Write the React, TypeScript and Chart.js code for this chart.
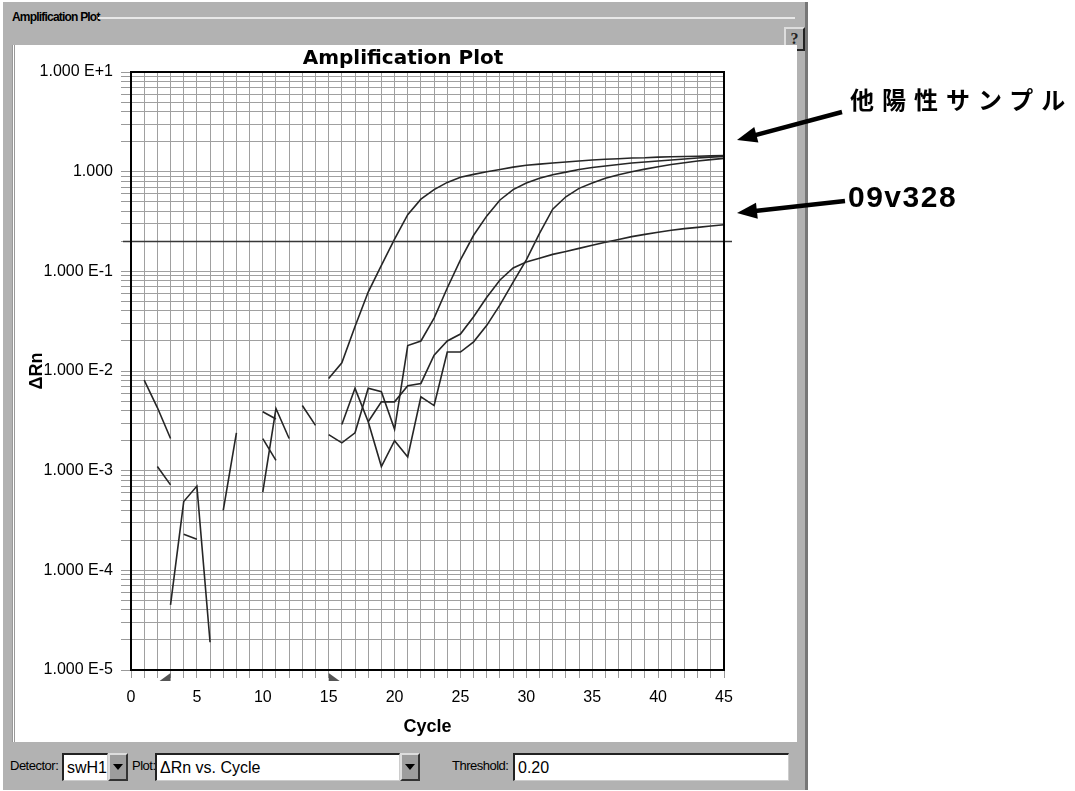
import React, { useEffect, useRef } from 'react';
import { Chart, registerables } from 'chart.js';

Chart.register(...registerables);

// ---------- data ----------
const cycles = [1, 2, 3, 4, 5, 6, 7, 8, 9, 10, 11, 12, 13, 14, 15, 16, 17, 18, 19, 20, 21, 22, 23, 24, 25, 26, 27, 28, 29, 30, 31, 32, 33, 34, 35, 36, 37, 38, 39, 40, 41, 42, 43, 44, 45];

// other positive sample 1 (earliest rise)
const positiveA = [0.0081, 0.0043, 0.0021, null, null, null, 0.0004, 0.0024, null, null, null, null, null, null, 0.0084, 0.0121, 0.028, 0.062, 0.115, 0.21, 0.37, 0.53, 0.66, 0.78, 0.88, 0.94, 1.0, 1.05, 1.11, 1.16, 1.19, 1.22, 1.25, 1.28, 1.31, 1.33, 1.35, 1.37, 1.38, 1.4, 1.41, 1.42, 1.43, 1.44, 1.45];
// other positive sample 2
const positiveB = [null, 0.0011, 0.00072, null, null, null, null, null, null, 0.00061, 0.0042, 0.0021, null, null, 0.0023, 0.0019, 0.0024, 0.0067, 0.0062, 0.0026, 0.018, 0.02, 0.034, 0.068, 0.13, 0.23, 0.36, 0.52, 0.66, 0.77, 0.86, 0.93, 0.99, 1.05, 1.1, 1.14, 1.18, 1.22, 1.25, 1.28, 1.31, 1.34, 1.37, 1.4, 1.42];
// other positive sample 3
const positiveC = [null, null, 0.000045, 0.00049, 0.0007, 0.000019, null, null, null, 0.0021, 0.00127, null, 0.0045, 0.00285, null, 0.0029, 0.0067, 0.0031, 0.0011, 0.002, 0.00137, 0.0055, 0.0045, 0.0155, 0.0155, 0.0196, 0.0287, 0.046, 0.078, 0.13, 0.24, 0.42, 0.56, 0.68, 0.77, 0.86, 0.93, 1.0, 1.06, 1.12, 1.18, 1.23, 1.28, 1.32, 1.36];
// sample 09v328
const sample09v328 = [null, null, null, 0.00023, 0.000205, null, null, null, null, 0.0039, 0.0033, null, null, null, null, null, null, 0.0031, 0.0049, 0.0049, 0.0071, 0.0075, 0.0144, 0.02, 0.0235, 0.035, 0.055, 0.082, 0.108, 0.124, 0.135, 0.148, 0.158, 0.17, 0.183, 0.196, 0.209, 0.223, 0.235, 0.247, 0.258, 0.268, 0.276, 0.285, 0.293];

const seriesNames = ['他陽性サンプル 1', '他陽性サンプル 2', '他陽性サンプル 3', '09v328'];
const seriesValues = [positiveA, positiveB, positiveC, sample09v328];

const thresholdValue = 0.2;
const baselineStart = 3;
const baselineEnd = 15;

const xMin = 0;
const xMax = 45;
const xTickLabels = [0, 5, 10, 15, 20, 25, 30, 35, 40, 45];

const yMin = 1e-5;
const yMax = 10;
const yTickValues = [1e-5, 1e-4, 1e-3, 1e-2, 1e-1, 1, 10];
const yTickLabels = ['1.000 E-5', '1.000 E-4', '1.000 E-3', '1.000 E-2', '1.000 E-1', '1.000', '1.000 E+1'];
const yMinorSteps = [1, 2, 3, 4, 5, 6, 7, 8, 9];

// ---------- styles ----------
const FONT = '"Liberation Sans", Arial, sans-serif';
const TITLE_FONT = '"DejaVu Sans", "Liberation Sans", sans-serif';
const GRID = '#a0a0a0';
const LINE = '#262626';
const TITLE_SPAN = 770; // title is centred on the whole panel, not on the plot area

const framePlugin = {
  id: 'plotFrame',
  afterLayout(chart: any) {
    if (chart.titleBlock) {
      chart.titleBlock.left = 0;
      chart.titleBlock.right = TITLE_SPAN;
    }
  },
  afterDatasetsDraw(chart: any) {
    const { ctx, chartArea, scales } = chart;
    const x = scales.x;
    const y = scales.y;
    ctx.save();
    // threshold line
    const ty = Math.round(y.getPixelForValue(thresholdValue)) + 0.5;
    ctx.strokeStyle = '#383838';
    ctx.lineWidth = 1.6;
    ctx.beginPath();
    ctx.moveTo(chartArea.left - 8, ty);
    ctx.lineTo(chartArea.right + 8, ty);
    ctx.stroke();
    // frame
    ctx.strokeStyle = '#000';
    ctx.lineWidth = 2;
    ctx.strokeRect(chartArea.left, chartArea.top, chartArea.right - chartArea.left, chartArea.bottom - chartArea.top);
    // baseline markers
    ctx.fillStyle = '#555';
    const by = chartArea.bottom + 3;
    const xs = x.getPixelForValue(baselineStart);
    ctx.beginPath();
    ctx.moveTo(xs, by);
    ctx.lineTo(xs, by + 8);
    ctx.lineTo(xs - 11, by + 8);
    ctx.closePath();
    ctx.fill();
    const xe = x.getPixelForValue(baselineEnd);
    ctx.beginPath();
    ctx.moveTo(xe, by);
    ctx.lineTo(xe, by + 8);
    ctx.lineTo(xe + 11, by + 8);
    ctx.closePath();
    ctx.fill();
    ctx.restore();
  },
};

function decadeIndex(v: number) {
  return yTickValues.findIndex((t) => Math.abs(Math.log10(t) - Math.log10(v)) < 1e-6);
}

function AmpChart() {
  const ref = useRef<HTMLCanvasElement | null>(null);
  useEffect(() => {
    if (!ref.current) return;
    const gridValues: number[] = [];
    for (let i = 0; i < yTickValues.length - 1; i++) {
      for (const m of yMinorSteps) gridValues.push(m * yTickValues[i]);
    }
    gridValues.push(yTickValues[yTickValues.length - 1]);
    const xGrid: number[] = [];
    for (let c = xMin; c <= xMax; c++) xGrid.push(c);

    const chart = new Chart(ref.current, {
      type: 'line',
      data: {
        datasets: seriesValues.map((vals, si) => ({
          label: seriesNames[si],
          data: cycles.map((c, i) => ({ x: c, y: vals[i] })),
          borderColor: LINE,
          borderWidth: 1.6,
          pointRadius: 0,
          tension: 0,
          fill: false,
          spanGaps: false,
        })),
      },
      options: {
        animation: false,
        responsive: false,
        devicePixelRatio: 1,
        layout: { padding: { left: 0, top: 0, right: 64, bottom: 0 } },
        plugins: {
          legend: { display: false },
          tooltip: { enabled: false },
          title: {
            display: true,
            text: 'Amplification Plot',
            color: '#000',
            font: { family: TITLE_FONT, size: 20, weight: 'bold', lineHeight: 1.2 },
            padding: { top: 2, bottom: 1 },
          },
        },
        scales: {
          x: {
            type: 'linear',
            min: xMin,
            max: xMax,
            afterBuildTicks: (axis: any) => {
              axis.ticks = xGrid.map((v) => ({ value: v }));
            },
            afterFit: (axis: any) => {
              axis.height = 72;
            },
            ticks: {
              autoSkip: false,
              maxRotation: 0,
              padding: 10,
              color: '#000',
              font: { family: FONT, size: 16 },
              callback: (v: any) => (xTickLabels.includes(Number(v)) ? String(v) : ''),
            },
            grid: { color: GRID, lineWidth: 1, tickLength: 8, tickColor: '#999' },
            border: { display: true, color: '#000', width: 2 },
            title: {
              display: true,
              text: 'Cycle',
              color: '#000',
              font: { family: FONT, size: 18, weight: 'bold' },
              padding: { top: 0, bottom: 4 },
            },
          },
          y: {
            type: 'logarithmic',
            min: yMin,
            max: yMax,
            afterBuildTicks: (axis: any) => {
              axis.ticks = gridValues.map((v) => ({ value: v }));
            },
            afterFit: (axis: any) => {
              axis.width = 113;
            },
            ticks: {
              autoSkip: false,
              padding: 8,
              color: '#000',
              font: { family: FONT, size: 16 },
              callback: (v: any) => {
                const idx = decadeIndex(Number(v));
                return idx >= 0 ? yTickLabels[idx] : '';
              },
            },
            grid: { color: GRID, lineWidth: 1, tickLength: 10, tickColor: '#999' },
            border: { display: true, color: '#000', width: 2 },
            title: {
              display: true,
              text: 'ΔRn',
              color: '#000',
              font: { family: FONT, size: 18, weight: 'bold' },
              padding: { top: 8, bottom: 0 },
            },
          },
        },
      },
      plugins: [framePlugin],
    } as any);
    return () => chart.destroy();
  }, []);
  return <canvas ref={ref} width={770} height={697} style={{ display: 'block', width: 770, height: 697 }} />;
}

function DropButton({ left }: { left: number }) {
  return (
    <div
      style={{
        position: 'absolute',
        left,
        top: 0,
        width: 20,
        height: 28,
        background: '#9d9d9d',
        borderTop: '2px solid #ddd',
        borderLeft: '2px solid #ddd',
        borderRight: '2px solid #333',
        borderBottom: '2px solid #333',
        boxSizing: 'border-box',
      }}
    >
      <div
        style={{
          position: 'absolute',
          left: 3,
          top: 9,
          width: 0,
          height: 0,
          borderLeft: '5px solid transparent',
          borderRight: '5px solid transparent',
          borderTop: '6px solid #000',
        }}
      />
    </div>
  );
}

function TextBox({ left, width, text }: { left: number; width: number; text: string }) {
  return (
    <div
      style={{
        position: 'absolute',
        left,
        top: 0,
        width,
        height: 28,
        background: '#fff',
        borderTop: '2px solid #222',
        borderLeft: '2px solid #222',
        borderRight: '1px solid #ccc',
        borderBottom: '1px solid #ccc',
        boxSizing: 'border-box',
        font: `16px ${FONT}`,
        lineHeight: '25px',
        paddingLeft: 3,
        color: '#000',
      }}
    >
      {text}
    </div>
  );
}

function Arrow({ x1, y1, x2, y2 }: { x1: number; y1: number; x2: number; y2: number }) {
  const dx = x2 - x1;
  const dy = y2 - y1;
  const len = Math.hypot(dx, dy);
  const ux = dx / len;
  const uy = dy / len;
  const head = 20;
  const half = 8;
  const bx = x2 - ux * head;
  const by = y2 - uy * head;
  const pts = `${x2},${y2} ${bx - uy * half},${by + ux * half} ${bx + uy * half},${by - ux * half}`;
  return (
    <g>
      <line x1={x1} y1={y1} x2={bx + ux * 2} y2={by + uy * 2} stroke="#000" strokeWidth={4.5} />
      <polygon points={pts} fill="#000" />
    </g>
  );
}

const labelStyle: React.CSSProperties = {
  position: 'absolute',
  top: 5,
  font: `13px ${FONT}`,
  color: '#000',
  letterSpacing: -0.5,
  whiteSpace: 'nowrap',
};

export default function App() {
  return (
    <div
      style={{
        position: 'fixed',
        left: 0,
        top: 0,
        width: 1075,
        height: 791,
        background: '#fff',
        overflow: 'hidden',
        fontFamily: FONT,
      }}
    >
      {/* window panel */}
      <div style={{ position: 'absolute', left: 3, top: 2, width: 805, height: 788, background: '#b2b2b2' }} />
      <div style={{ position: 'absolute', left: 805, top: 2, width: 3, height: 788, background: '#777' }} />
      {/* group box label */}
      <div style={{ position: 'absolute', left: 12, top: 10, font: `bold 12px ${FONT}`, color: '#000', letterSpacing: -0.8, whiteSpace: 'nowrap' }}>
        Amplification Plot
      </div>
      <div style={{ position: 'absolute', left: 98, top: 17, width: 697, height: 2, background: '#e8e8e8' }} />
      {/* help button */}
      <div
        style={{
          position: 'absolute',
          left: 784,
          top: 27,
          width: 21,
          height: 24,
          background: '#a8a8a8',
          borderTop: '2px solid #ddd',
          borderLeft: '2px solid #ddd',
          borderRight: '2px solid #222',
          borderBottom: '2px solid #222',
          boxSizing: 'border-box',
          font: `bold 16px "Liberation Serif", serif`,
          textAlign: 'center',
          lineHeight: '20px',
          color: '#222',
        }}
      >
        ?
      </div>
      {/* white plot panel */}
      <div style={{ position: 'absolute', left: 12, top: 45, width: 785, height: 697, background: '#fff', borderLeft: '3px double #999', boxSizing: 'border-box' }} />
      <div style={{ position: 'absolute', left: 18, top: 45 }}>
        <AmpChart />
      </div>
      {/* bottom controls */}
      <div style={{ position: 'absolute', left: 0, top: 753, width: 805, height: 30 }}>
        <div style={{ ...labelStyle, left: 10 }}>Detector:</div>
        <TextBox left={62} width={46} text="swH1" />
        <DropButton left={108} />
        <div style={{ ...labelStyle, left: 132 }}>Plot:</div>
        <TextBox left={155} width={245} text="ΔRn vs. Cycle" />
        <DropButton left={400} />
        <div style={{ ...labelStyle, left: 452 }}>Threshold:</div>
        <TextBox left={513} width={276} text="0.20" />
      </div>
      {/* annotations */}
      <svg width={1075} height={791} style={{ position: 'absolute', left: 0, top: 0 }}>
        <Arrow x1={842} y1={112} x2={737} y2={140} />
        <Arrow x1={845} y1={201} x2={737} y2={213} />
      </svg>
      <div
        style={{
          position: 'absolute',
          left: 850,
          top: 81,
          font: `bold 24px "Noto Sans CJK JP", sans-serif`,
          letterSpacing: 8,
          color: '#000',
          whiteSpace: 'nowrap',
        }}
      >
        他陽性サンプル
      </div>
      <div style={{ position: 'absolute', left: 848, top: 180, font: `bold 30px ${FONT}`, letterSpacing: 1.5, color: '#000', whiteSpace: 'nowrap' }}>
        09v328
      </div>
    </div>
  );
}
